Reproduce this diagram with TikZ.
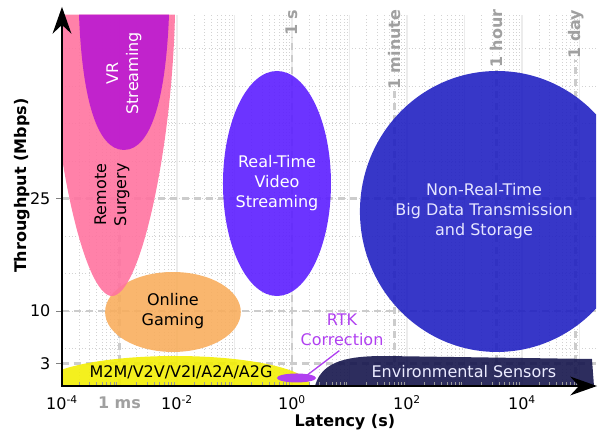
\documentclass[tikz,border=0pt]{standalone}
\usepackage{fontspec}
\setmainfont{DejaVu Sans}
\usetikzlibrary{arrows.meta}

\definecolor{surgerypink}{RGB}{255,115,160}
\definecolor{vrpurple}{RGB}{187,25,209}
\definecolor{videoviolet}{RGB}{92,30,255}
\definecolor{bigdatablue}{RGB}{33,33,194}
\definecolor{gamingorange}{RGB}{248,174,94}
\definecolor{mtwomyellow}{RGB}{243,238,5}
\definecolor{rtkpurple}{RGB}{176,64,240}
\definecolor{sensornavy}{RGB}{22,22,77}
\definecolor{timegray}{RGB}{160,160,160}

\tikzset{
    area/.style={fill opacity=0.9},
    marker/.style={draw=gray!40, line width=2pt, dash pattern=on 5pt off 4pt},
    minorgrid/.style={draw=gray!35, dotted, line width=0.5pt},
    majorgrid/.style={draw=gray!15, line width=0.8pt},
    timelabel/.style={text=timegray, font=\fontsize{12}{14}\selectfont\bfseries, rotate=90, anchor=east, inner sep=1pt},
    ticklabel/.style={font=\fontsize{12}{14}\selectfont},
    inlabel/.style={align=center, font=\fontsize{12}{15}\selectfont},
    axislabel/.style={font=\fontsize{12}{14}\selectfont\bfseries},
}

\begin{document}
\begin{tikzpicture}[x=43.125pt, y=5.625pt]
    \useasboundingbox (-5.078,-6.667) rectangle (5.322,51.467);

    % grid
    \foreach \k in {-4,...,4}{
        \foreach \m in {2,...,9}{
            \draw[minorgrid] ({\k+log10(\m)},0) -- ({\k+log10(\m)},49.5);
        }
    }
    \foreach \t in {5,10,...,45}{
        \draw[minorgrid] (-4,\t) -- (5.28,\t);
    }
    \foreach \k in {-3,...,5}{
        \draw[majorgrid] (\k,0) -- (\k,49.5);
    }

    % reference levels
    \foreach \t in {3,10,25}{
        \draw[marker] (-4,\t) -- (5.28,\t);
        \draw[gray, line width=0.6pt] (-4.1,\t) -- (-4,\t);
        \node[ticklabel, anchor=east] (ytick\t) at (-4.12,\t) {\t};
    }
    \draw[marker] (-3,0) -- (-3,25);
    \foreach \l/\txt/\n in {0/1 s/sec, 1.778/1 minute/min, 3.556/1 hour/hour, 4.936/1 day/day}{
        \node[timelabel] (\n) at (\l,50.4) {\txt};
        \draw[marker] (\l,0) -- (\n.west);
    }

    % application areas
    \begin{scope}
        \clip (-4,0) rectangle (5.29,49.5);
        \fill[mtwomyellow, area] (-2.035,0) ellipse (2.35 and 4);
        \fill[gamingorange, area] (-2.07,9.87) ellipse (1.18 and 5.33);
        \fill[surgerypink, area] (-4.226,49.5) .. controls (-4.174,31.47) and (-3.617,12) .. (-3.13,12)
            .. controls (-2.643,12) and (-2.087,31.47) .. (-2.035,49.5) -- cycle;
        \fill[vrpurple, area] (-3.704,49.5) .. controls (-3.652,38.8) and (-3.409,31.47) .. (-2.922,31.47)
            .. controls (-2.435,31.47) and (-2.191,38.8) .. (-2.139,49.5) -- cycle;
        \fill[videoviolet, area] (-0.261,27) ellipse (0.939 and 15);
        \fill[bigdatablue, area] (3.565,23.27) ellipse (2.383 and 18.73);
        \fill[sensornavy, area] (0.4,0) .. controls (0.522,3.47) and (1.009,4) .. (1.617,4)
            -- (5.217,3.6) -- (5.252,0) -- cycle;
        \fill[rtkpurple] (0.078,1.07) ellipse (0.34 and 0.6);
    \end{scope}

    \node[inlabel, text=white, rotate=90] (vr) at (-2.922,41.7) {VR\\Streaming};
    \node[inlabel, rotate=90] (surgery) at (-3.13,25.5) {Remote\\Surgery};
    \node[inlabel, text=white] (video) at (-0.26,27) {Real-Time\\Video\\Streaming};
    \node[inlabel] (gaming) at (-2.07,10) {Online\\Gaming};
    \node[inlabel, text=white!90!blue] (bigdata) at (3.34,23.3) {Non-Real-Time\\Big Data Transmission\\and Storage};
    \node[inlabel] (mtwom) at (-1.93,1.87) {M2M/V2V/V2I/A2A/A2G};
    \node[inlabel, text=white!92!blue] (sensors) at (2.99,1.87) {Environmental Sensors};
    \node[inlabel, text=rtkpurple] (rtk) at (0.87,7.47) {RTK\\Correction};
    \coordinate (rtkend) at (0.23,1.25);
    \draw[rtkpurple, line width=1pt] ([xshift=-2pt]rtk.south) -- (rtkend);

    % axes
    \foreach \k in {-4,...,4}{
        \foreach \m in {2,...,9}{
            \draw[gray!80, line width=0.6pt] ({\k+log10(\m)},0) -- ++(0,0.6);
        }
    }
    \draw[line width=2.2pt, line join=miter, {Stealth[length=20pt,width=14pt]}-{Stealth[length=20pt,width=14pt]}]
        (-4,50.55) -- (-4,0) -- (5.305,0);

    \foreach \e in {-4,-2,0,2,4}{
        \node[ticklabel] (xtick\e) at (\e,-2.2) {10\textsuperscript{\e}};
    }
    \node[ticklabel, text=timegray, font=\fontsize{12}{14}\selectfont\bfseries] (ms) at (-3,-2.2) {1 ms};
    \node[axislabel] (xlabel) at (0.92,-4.8) {Latency (s)};
    \node[axislabel, rotate=90] (ylabel) at (-4.7,26.7) {Throughput (Mbps)};
\end{tikzpicture}
\end{document}
